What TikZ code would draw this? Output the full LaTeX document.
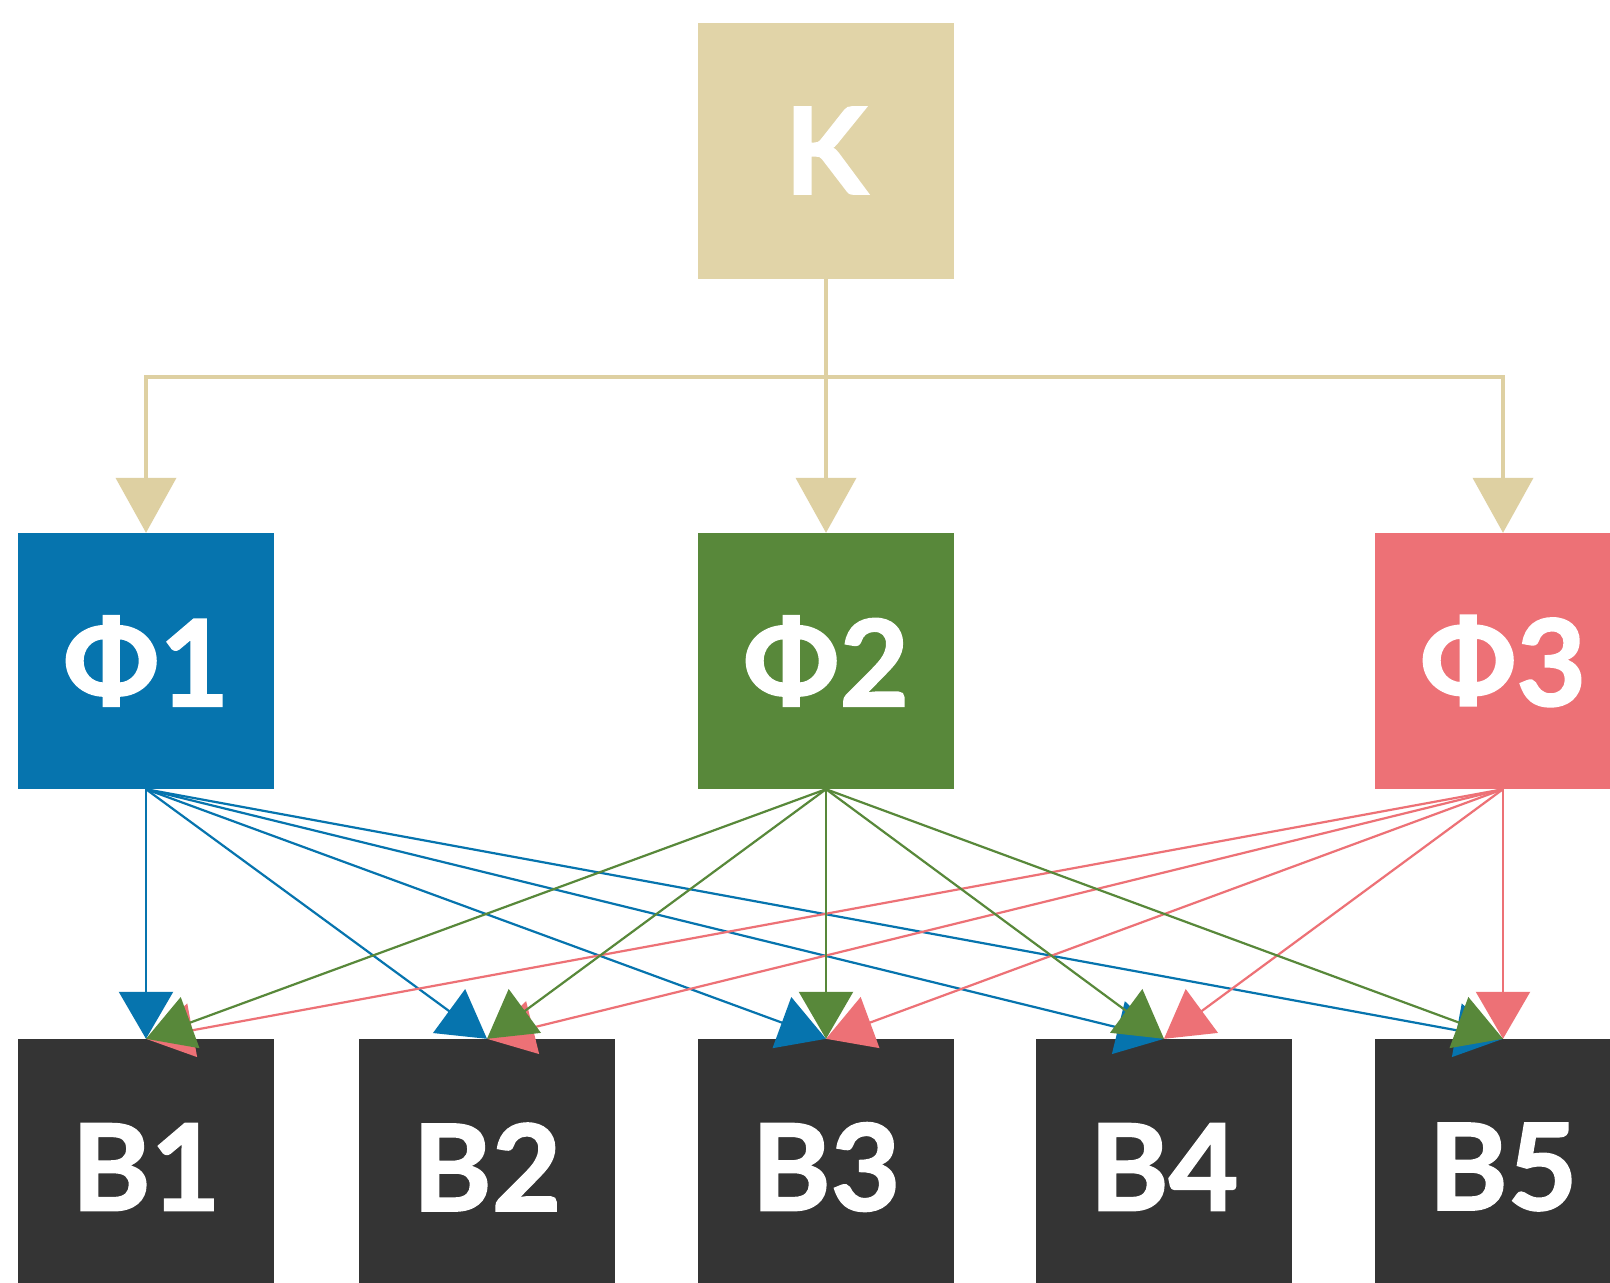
\documentclass[tikz,border=0pt]{standalone}
\usepackage{fontspec}
\setmainfont{Lato}[BoldFeatures={FakeBold=1.6}]
\usetikzlibrary{arrows.meta}

\definecolor{sand}{RGB}{225,212,168}
\definecolor{sandline}{RGB}{222,208,162}
\definecolor{fblue}{RGB}{6,116,174}
\definecolor{fgreen}{RGB}{88,136,58}
\definecolor{fpink}{RGB}{237,113,118}
\definecolor{darkbox}{RGB}{52,52,52}

\begin{document}
\begin{tikzpicture}[x=1pt,y=-1pt,
  box/.style={rectangle, minimum width=256pt, minimum height=256pt, inner sep=0pt,
    text=white, font=\fontsize{120}{120}\selectfont\bfseries},
  topbox/.style={box, fill=sand},
  bluebox/.style={box, fill=fblue},
  greenbox/.style={box, fill=fgreen},
  pinkbox/.style={box, fill=fpink},
  darkb/.style={box, fill=darkbox},
  sandarrow/.style={draw=sandline, line width=4pt,
    -{Triangle[length=55pt,width=60pt]}},
  link/.style={line width=2.2pt,
    -{Triangle[length=47pt,width=54pt]}},
  bluelink/.style={link, draw=fblue, fill=fblue},
  greenlink/.style={link, draw=fgreen, fill=fgreen},
  pinklink/.style={link, draw=fpink, fill=fpink}]

\path[use as bounding box] (0,0) rectangle (1610,1283);
\clip (0,0) rectangle (1610,1283);
\fill[white] (0,0) rectangle (1610,1283);

% top level
\node[topbox] (K) at (826,150.5) {K};

% middle level
\node[bluebox]  (F1) at (146,661)  {Ф1};
\node[greenbox] (F2) at (826,661)  {Ф2};
\node[pinkbox]  (F3) at (1503,661) {Ф3};

% bottom level
\node[darkb] (B1) at (146,1167)  {B1};
\node[darkb] (B2) at (487,1167)  {B2};
\node[darkb] (B3) at (826,1167)  {B3};
\node[darkb] (B4) at (1164,1167) {B4};
\node[darkb] (B5) at (1503,1167) {B5};

% distribution from K
\coordinate (J) at (826,377);
\draw[sandarrow] (K.south) -- (F2.north);
\draw[sandarrow] (J) -| (F1.north);
\draw[sandarrow] (J) -| (F3.north);

% links from every Ф to every B
\foreach \b in {B1,B2,B3,B4,B5} {
  \draw[bluelink] (F1.south) -- (\b.north);
}
\foreach \b in {B1,B2,B3,B4,B5} {
  \draw[pinklink] (F3.south) -- (\b.north);
}
\foreach \b in {B1,B2,B3,B4,B5} {
  \draw[greenlink] (F2.south) -- (\b.north);
}
\end{tikzpicture}
\end{document}
